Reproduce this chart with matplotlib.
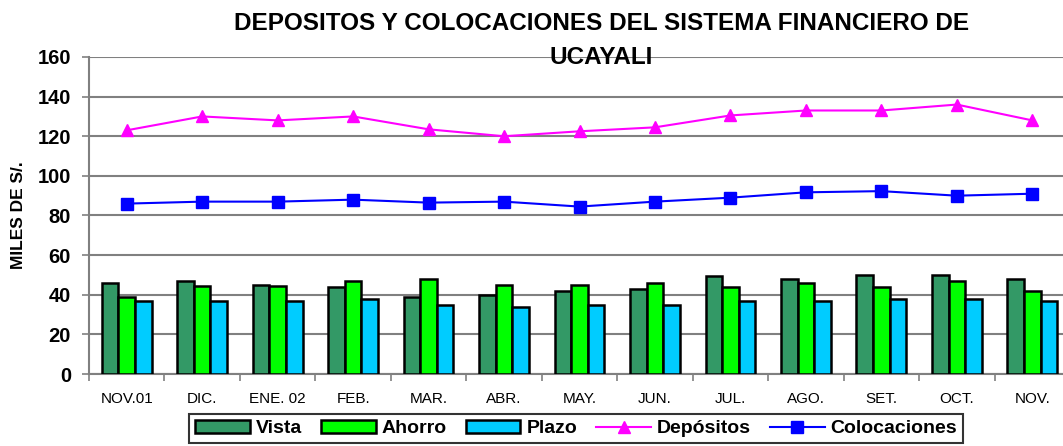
import matplotlib
matplotlib.use("Agg")
import matplotlib.pyplot as plt
import numpy as np

plt.rcParams['font.family'] = ['Liberation Sans', 'DejaVu Sans']

categories = ["NOV.01", "DIC.", "ENE. 02", "FEB.", "MAR.", "ABR.", "MAY.", "JUN.",
              "JUL.", "AGO.", "SET.", "OCT.", "NOV."]
vista = [46, 47, 45, 44, 39, 40, 42, 43, 49.5, 48, 50, 50, 48]
ahorro = [39, 44.5, 44.5, 47, 48, 45, 45, 46, 44, 46, 44, 47, 42]
plazo = [37, 37, 37, 38, 35, 34, 35, 35, 37, 37, 38, 38, 37]
depositos = [123, 130, 128, 130, 123.5, 120, 122.5, 124.5, 130.5, 133, 133, 136, 128]
colocaciones = [86, 87, 87, 88, 86.5, 87, 84.5, 87, 89, 91.7, 92.3, 90, 91]
yticks = [0, 20, 40, 60, 80, 100, 120, 140, 160]

fig = plt.figure(figsize=(10.63, 4.46), dpi=100)
ax = fig.add_axes([89 / 1063, 1 - 374 / 446, 981 / 1063, 317 / 446])

x = np.arange(len(categories))
w = 0.22
b1 = ax.bar(x - w, vista, w, color="#339966", edgecolor="black", linewidth=1.8, label="Vista", zorder=3)
b2 = ax.bar(x, ahorro, w, color="#00ff00", edgecolor="black", linewidth=1.8, label="Ahorro", zorder=3)
b3 = ax.bar(x + w, plazo, w, color="#00ccff", edgecolor="black", linewidth=1.8, label="Plazo", zorder=3)
l1, = ax.plot(x, depositos, color="#ff00ff", marker="^", markersize=9, linewidth=1.5, label="Depósitos", zorder=4)
l2, = ax.plot(x, colocaciones, color="#0000ff", marker="s", markersize=8, linewidth=1.5, label="Colocaciones", zorder=4)

ax.set_xlim(-0.5, len(categories) - 0.5)
ax.set_ylim(0, 160)
ax.set_yticks(yticks)
ax.set_yticklabels([str(v) for v in yticks], fontsize=14.5, fontweight="bold")
ax.yaxis.grid(True, color="#808080", linewidth=1.5, zorder=0)
ax.set_axisbelow(True)

ax.set_xticks(np.arange(len(categories) + 1) - 0.5)
ax.set_xticklabels([])
ax.set_xticks(x, minor=True)
ax.set_xticklabels(categories, minor=True, fontsize=11)
ax.tick_params(axis="x", which="minor", length=0, pad=13)
ax.tick_params(axis="x", which="major", length=5, color="#808080", width=1.2)
ax.tick_params(axis="y", length=5, color="#808080", width=1.2, pad=8)

for s in ["top", "right"]:
    ax.spines[s].set_visible(False)
for s in ["left", "bottom"]:
    ax.spines[s].set_color("#808080")
    ax.spines[s].set_linewidth(1.5)

ax.set_ylabel("MILES DE S/.", fontsize=12.5, fontweight="bold", labelpad=8)

fig.text(0.566, 1 - 23 / 446, "DEPOSITOS Y COLOCACIONES DEL SISTEMA FINANCIERO DE", ha="center", va="center",
         fontsize=17.5, fontweight="bold")
fig.text(0.566, 1 - 57 / 446, "UCAYALI", ha="center", va="center", fontsize=17.5, fontweight="bold")

leg = fig.legend(handles=[b1, b2, b3, l1, l2], labels=["Vista", "Ahorro", "Plazo", "Depósitos", "Colocaciones"],
                 loc="upper center", bbox_to_anchor=(0.542, 1 - 414 / 446), ncol=5, frameon=True, fancybox=False,
                 edgecolor="black", prop={"weight": "bold", "size": 14}, handlelength=2.8,
                 handletextpad=0.3, columnspacing=1.0, borderpad=0.3, borderaxespad=0)
leg.get_frame().set_linewidth(1.5)

fig.savefig("out.png", dpi=100)
